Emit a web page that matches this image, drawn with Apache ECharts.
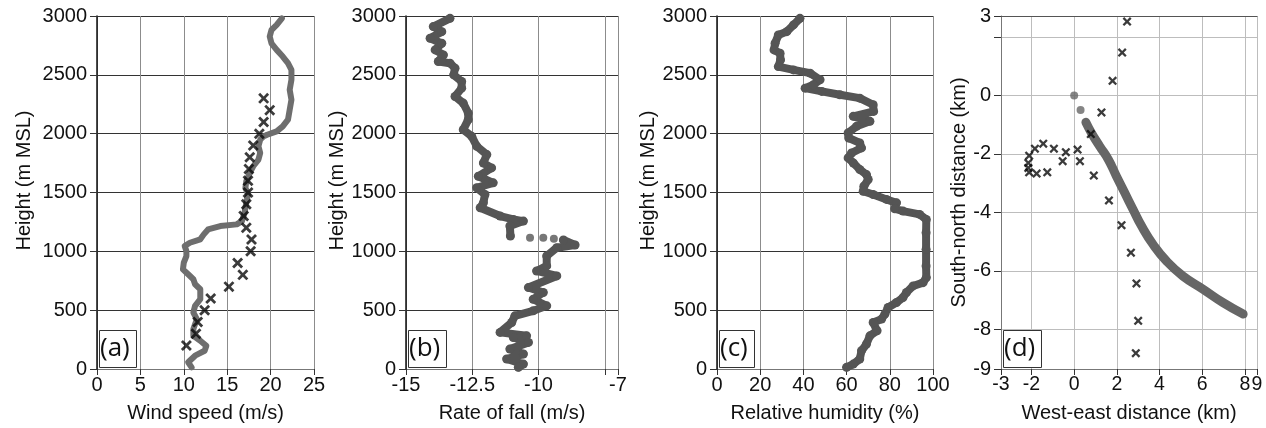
<!DOCTYPE html>
<html><head><meta charset="utf-8">
<script src="https://cdn.jsdelivr.net/npm/echarts@6/dist/echarts.min.js"></script>
<style>html,body{margin:0;padding:0;background:#fff}#c{width:1266px;height:428px}</style>
</head><body><div id="c"></div>
<script>
// ---- Panel (a): wind speed ----
const windHeight = [14,57,113,155,197,240,282,339,424,480,537,593,678,720,763,805,847,904,960,1003,1045,1073,1102,1144,1186,1215,1229,1257,1328,1412,1483,1540,1596,1667,1723,1780,1836,1893,1949,1977,1991,2020,2062,2119,2203,2288,2373,2458,2542,2599,2655,2712,2768,2825,2881,2924,2980];
const windSpeed = [10.9,10.5,11.3,12.4,12.6,11.9,11.1,11.1,11.5,11.1,11.3,11.9,11.9,11.3,11.1,10.5,9.9,10.0,10.3,10.3,10.1,10.7,11.9,12.3,12.8,14.2,16.1,16.7,17.0,17.2,17.4,17.1,17.2,17.6,18.0,18.6,18.8,18.6,18.8,19.2,19.6,20.7,21.4,22.0,22.2,22.4,22.2,22.4,22.4,22.0,21.4,20.7,20.1,19.9,20.1,20.7,21.3];
const windObsHeight = [200,300,400,500,600,700,800,900,1000,1100,1200,1300,1400,1500,1600,1700,1800,1900,2000,2100,2200,2300];
const windObsSpeed = [10.3,11.4,11.6,12.4,13.1,15.2,16.8,16.2,17.7,17.8,17.2,16.9,17.2,17.4,17.4,17.5,17.6,18.0,18.7,19.2,19.9,19.2];

// ---- Panel (b): rate of fall ----
const fallUpperHeight = [2980,2910,2867,2811,2768,2712,2669,2613,2599,2557,2500,2443,2387,2316,2260,2175,2119,2034,1977,1893,1822,1751,1709,1638,1582,1540,1483,1412,1370,1300,1271,1257,1215,1130];
const fallUpperRate = [-13.34,-13.97,-13.65,-14.09,-13.65,-13.9,-13.59,-13.78,-13.34,-13.15,-13.2,-12.9,-12.9,-13.15,-12.84,-12.65,-12.65,-12.84,-12.52,-12.33,-11.95,-12.08,-11.77,-12.27,-11.71,-12.33,-12.02,-12.08,-12.2,-11.45,-10.95,-10.57,-11.08,-11.06];
const fallGapHeight = [1116,1116,1107];
const fallGapRate = [-10.32,-9.82,-9.42];
const fallLowerHeight = [1096,1054,1031,960,876,833,791,692,650,593,537,494,452,395,311,282,268,226,169,127,85,42,14];
const fallLowerRate = [-9.06,-8.62,-9.31,-9.69,-9.69,-10.07,-9.31,-10.38,-9.82,-10.2,-9.69,-10.2,-10.89,-11.01,-11.45,-10.45,-10.95,-10.38,-11.08,-10.57,-11.2,-10.57,-10.76];
const fallTicks = [-15,-12.5,-10,-7.5,-7];
const fallLabels = [-15,-12.5,-10,-7];

// ---- Panel (c): relative humidity ----
const humHeight = [2980,2924,2867,2839,2768,2712,2684,2627,2570,2542,2514,2458,2415,2387,2359,2331,2302,2246,2189,2147,2105,2062,2006,1963,1921,1879,1836,1794,1751,1695,1652,1610,1553,1511,1483,1441,1412,1362,1342,1314,1271,1158,1017,876,777,734,706,650,607,565,523,466,424,395,325,282,212,155,85,42,14];
const humidity = [38.4,35.4,32.3,28.4,26.9,26.4,29.2,29.4,28.4,35.4,43.1,47.7,44.6,40.8,48.5,56.9,66.1,72.3,72.5,63.1,70.8,64.6,60.7,61.0,66.1,66.9,62.3,60.7,63.1,66.1,69.2,70.0,68.0,67.7,72.3,78.5,83.1,82.3,86.1,93.8,96.9,96.8,96.8,96.8,96.9,95.4,90.8,87.7,86.1,83.1,79.2,77.7,76.2,72.3,74.1,70.8,69.2,66.9,66.1,63.1,60.0];

// ---- Panel (d): horizontal track ----
const launchX = [0, 0.3];
const launchY = [0, -0.5];
const trackX = [0.55,0.81,1.2,1.6,1.98,2.37,2.76,3.16,3.7,4.33,5.1,6.04,6.98,7.92];
const trackY = [-0.92,-1.28,-1.74,-2.19,-2.76,-3.33,-3.9,-4.47,-5.1,-5.67,-6.18,-6.63,-7.09,-7.48];
const obsX = [2.48,2.25,1.8,1.28,0.78,0.16,0.27,-0.39,-0.54,-0.95,-1.45,-1.84,-2.11,-2.15,-2.15,-2.11,-1.76,-1.26,0.92,1.63,2.22,2.66,2.92,3.0,2.89];
const obsY = [2.53,1.47,0.5,-0.58,-1.32,-1.85,-2.25,-1.94,-2.25,-1.82,-1.65,-1.82,-2.06,-2.31,-2.48,-2.63,-2.67,-2.63,-2.74,-3.59,-4.44,-5.38,-6.43,-7.71,-8.82];
const dXTicks = [-3.43,-2,0,2,4,6,8,8.57];
const dXTickLabels = ['-3','-2','0','2','4','6','8','9'];
const dYTicks = [-9.36,-8,-6,-4,-2,0,2,2.72];
const dYTickLabels = ['-9','-8','-6','-4','-2','0','','3'];

const panelLabels = ['(a)','(b)','(c)','(d)'];

// ---- layout ----
const grids = [
  {left: 97, top: 16, width: 217, height: 354},
  {left: 406, top: 16, width: 212, height: 354},
  {left: 717, top: 16, width: 216, height: 354},
  {left: 1001, top: 16, width: 256, height: 354}
];
const FONT = "'Liberation Sans',Arial,Helvetica,sans-serif";
const TICK_FS = 20, NAME_FS = 20;
const zip = (xs, ys) => xs.map((x, i) => [x, ys[i]]);
const CROSS = 'path://M0,1.8L1.8,0L5,3.2L8.2,0L10,1.8L6.8,5L10,8.2L8.2,10L5,6.8L1.8,10L0,8.2L3.2,5Z';
const plain = v => String(v);

function heightAxis(gi, gap) {
  return {
    type: 'value', gridIndex: gi, min: 0, max: 3000, interval: 500,
    name: 'Height (m MSL)', nameLocation: 'middle', nameGap: gap,
    nameTextStyle: {fontFamily: FONT, fontSize: NAME_FS, color: '#111', padding: [0, 0, 0, 24]},
    axisLine: {show: true, lineStyle: {color: '#111', width: 1.5}},
    axisTick: {show: true, inside: false, length: 7, lineStyle: {color: '#333'}},
    axisLabel: {fontFamily: FONT, fontSize: TICK_FS, color: '#111', margin: 10, formatter: plain,
      showMinLabel: true, showMaxLabel: true},
    splitLine: {show: true, lineStyle: {color: '#333', width: 1}}
  };
}
function bottomAxis(gi, name, extra) {
  return Object.assign({
    type: 'value', gridIndex: gi, name: name, nameLocation: 'middle', nameGap: 34,
    nameTextStyle: {fontFamily: FONT, fontSize: NAME_FS, color: '#111'},
    axisLine: {show: true, onZero: false, lineStyle: {color: '#777', width: 1}},
    axisTick: {show: true, inside: false, length: 6, lineStyle: {color: '#333'}},
    axisLabel: {fontFamily: FONT, fontSize: TICK_FS, color: '#111', margin: 6, formatter: plain,
      showMinLabel: true, showMaxLabel: true},
    splitLine: {show: true, lineStyle: {color: '#8c8c8c', width: 1}}
  }, extra);
}

const option = {
  animation: false,
  backgroundColor: '#fff',
  title: panelLabels.map((t, i) => ({
    text: t, left: grids[i].left + 2, top: 330,
    padding: [3, 7, 3, 1],
    borderColor: '#333', borderWidth: 1, backgroundColor: '#fff',
    textStyle: {fontFamily: "'Open Sans','Noto Sans',sans-serif", fontSize: 26, fontWeight: 'normal', color: '#111', lineHeight: 32}
  })),
  grid: grids.map(g => Object.assign({containLabel: false}, g)),
  xAxis: [
    bottomAxis(0, 'Wind speed (m/s)', {min: 0, max: 25, interval: 5}),
    bottomAxis(1, 'Rate of fall (m/s)', {
      min: -15, max: -7, interval: 2.5,
      axisTick: {show: true, inside: false, length: 6, lineStyle: {color: '#333'}, customValues: fallTicks},
      axisLabel: {fontFamily: FONT, fontSize: TICK_FS, color: '#111', margin: 6, customValues: fallLabels,
        showMinLabel: true, showMaxLabel: true,
        formatter: v => (fallLabels.indexOf(v) >= 0 ? String(v) : '')}
    }),
    bottomAxis(2, 'Relative humidity (%)', {min: 0, max: 100, interval: 20}),
    bottomAxis(3, 'West-east distance (km)', {
      min: dXTicks[0], max: dXTicks[dXTicks.length - 1],
      axisLine: {show: true, onZero: false, lineStyle: {color: '#777', width: 1}},
      axisTick: {show: true, inside: false, length: 6, lineStyle: {color: '#333'}, customValues: dXTicks},
      axisLabel: {fontFamily: FONT, fontSize: 19.5, color: '#111', margin: 6, customValues: dXTicks,
        showMinLabel: null, showMaxLabel: null, hideOverlap: false,
        formatter: v => { const i = dXTicks.indexOf(v); return i >= 0 ? dXTickLabels[i] : ''; }},
      splitLine: {show: true, lineStyle: {color: '#bdbdbd', width: 1}}
    }),
    {type: 'value', gridIndex: 3, position: 'top', min: dXTicks[0], max: dXTicks[dXTicks.length - 1],
      axisLine: {show: true, onZero: false, lineStyle: {color: '#555', width: 1}},
      axisTick: {show: false}, axisLabel: {show: false}, splitLine: {show: false}}
  ],
  yAxis: [
    heightAxis(0, 63),
    heightAxis(1, 57.5),
    heightAxis(2, 58.5),
    {
      type: 'value', gridIndex: 3, min: dYTicks[0], max: dYTicks[dYTicks.length - 1],
      name: 'South-north distance (km)', nameLocation: 'middle', nameGap: 31,
      nameTextStyle: {fontFamily: FONT, fontSize: NAME_FS, color: '#111'},
      axisLine: {show: true, onZero: false, lineStyle: {color: '#777', width: 1}},
      axisTick: {show: true, inside: false, length: 7, lineStyle: {color: '#333'}, customValues: dYTicks},
      axisLabel: {fontFamily: FONT, fontSize: TICK_FS, color: '#111', margin: 10, customValues: dYTicks,
        showMinLabel: true, showMaxLabel: true,
        formatter: v => { const i = dYTicks.indexOf(v); return i >= 0 ? dYTickLabels[i] : ''; }},
      splitLine: {show: true, lineStyle: {color: '#bdbdbd', width: 1}}
    }
  ],
  series: [
    {type: 'line', xAxisIndex: 0, yAxisIndex: 0, data: zip(windSpeed, windHeight), symbol: 'none',
      lineStyle: {color: '#6e6e6e', width: 6, cap: 'round', join: 'round'}, z: 2},
    {type: 'scatter', xAxisIndex: 0, yAxisIndex: 0, data: zip(windObsSpeed, windObsHeight), symbol: CROSS, symbolSize: 11,
      itemStyle: {color: '#0a0a0a'}, z: 3},
    {type: 'line', xAxisIndex: 1, yAxisIndex: 1, data: zip(fallUpperRate, fallUpperHeight), symbol: 'circle', symbolSize: 9, showSymbol: true,
      lineStyle: {color: '#555', width: 8, cap: 'round', join: 'round'}, itemStyle: {color: '#555'}},
    {type: 'scatter', xAxisIndex: 1, yAxisIndex: 1, data: zip(fallGapRate, fallGapHeight), symbol: 'circle', symbolSize: 8,
      itemStyle: {color: '#555'}},
    {type: 'line', xAxisIndex: 1, yAxisIndex: 1, data: zip(fallLowerRate, fallLowerHeight), symbol: 'circle', symbolSize: 9, showSymbol: true,
      lineStyle: {color: '#555', width: 8, cap: 'round', join: 'round'}, itemStyle: {color: '#555'}},
    {type: 'line', xAxisIndex: 2, yAxisIndex: 2, data: zip(humidity, humHeight), symbol: 'circle', symbolSize: 9, showSymbol: true,
      lineStyle: {color: '#555', width: 8, cap: 'round', join: 'round'}, itemStyle: {color: '#555'}},
    {type: 'scatter', xAxisIndex: 3, yAxisIndex: 3, data: zip(launchX, launchY), symbol: 'circle', symbolSize: 8,
      itemStyle: {color: '#666'}},
    {type: 'line', xAxisIndex: 3, yAxisIndex: 3, data: zip(trackX, trackY), symbol: 'none', smooth: true,
      lineStyle: {color: '#666', width: 9, cap: 'round', join: 'round'}, z: 2},
    {type: 'scatter', xAxisIndex: 3, yAxisIndex: 3, data: zip(obsX, obsY), symbol: CROSS, symbolSize: 9,
      itemStyle: {color: '#0a0a0a'}, z: 3}
  ]
};
const chart = echarts.init(document.getElementById('c'), null, {renderer: 'canvas'});
chart.setOption(option);
</script>
</body></html>
